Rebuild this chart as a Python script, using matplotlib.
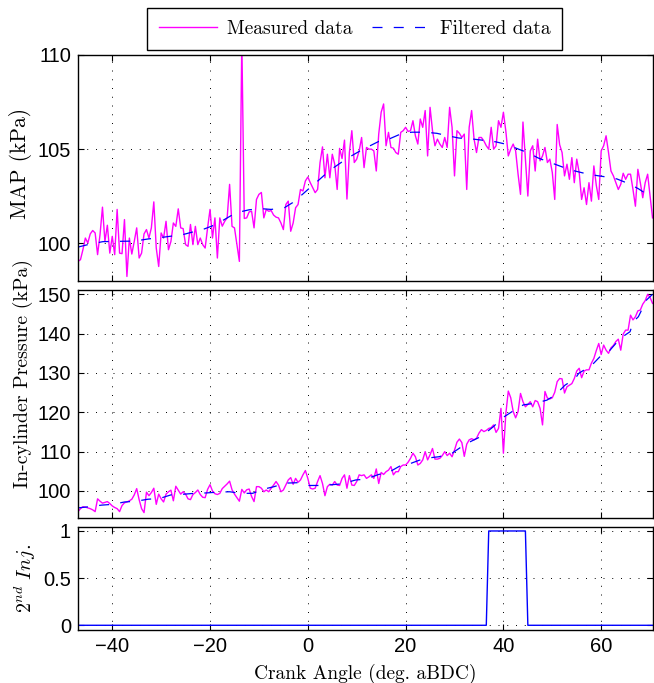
import numpy as np
import matplotlib
matplotlib.use("Agg")
import matplotlib.pyplot as plt

plt.rcParams['font.family'] = ['Liberation Sans', 'DejaVu Sans']
plt.rcParams['font.size'] = 13
plt.rcParams['mathtext.fontset'] = 'cm'
plt.rcParams['axes.unicode_minus'] = True

# crank angle samples (deg aBDC), 0.5 deg step
crank = np.arange(-47.0, 70.51, 0.5)

# measured MAP (kPa)
map_meas = [
    99.04, 99.13, 99.66, 100.28, 100.02, 100.5, 100.68, 100.55, 99.4, 100.46,
    101.92, 100.1, 100.96, 99.48, 100.37, 99.4, 101.8, 99.48, 99.45, 101.26,
    98.24, 100.28, 99.43, 100.1, 100.82, 99.22, 99.48, 100.5, 100.73, 100.28,
    100.82, 102.2, 99.75, 98.77, 100.55, 100.28, 101.17, 99.66, 100.1, 101.08,
    100.9, 101.83, 100.82, 100.78, 99.93, 99.84, 101.0, 99.93, 100.9, 99.93,
    100.28, 99.93, 99.75, 100.82, 101.8, 100.28, 101.35, 99.22, 101.35,
    100.91, 101.17, 101.35, 103.13, 100.9, 100.82, 99.93, 99.04, 110.8, 101.32,
    101.35, 101.67, 101.7, 100.82, 102.33, 102.6, 102.7, 101.35, 101.8, 101.7,
    101.74, 101.5, 101.39, 101.35, 101.08, 100.73, 102.06, 102.24, 100.64, 101.08,
    101.89, 102.06, 102.86, 102.78, 103.31, 103.52, 103.22, 102.95, 102.69, 102.86,
    104.29, 105.12, 103.48, 104.73, 103.48, 104.73, 104.2, 102.86, 105.04, 104.5,
    105.48, 102.35, 104.82, 105.98, 104.29, 104.47, 104.91, 105.62,
    104.02, 105.09, 105.0, 105.0, 104.91, 103.84, 105.8, 106.96, 107.4, 105.18,
    105.89, 105.09, 105.05, 104.82, 104.73, 105.89, 105.98, 106.16, 105.94, 105.98,
    106.51, 105.71, 105.27, 106.6, 106.16, 107.05, 104.64, 107.22, 105.98, 105.18,
    105.53, 105.27, 105.09, 105.62, 105.09, 107.22, 106.16, 103.58, 105.98, 105.84,
    105.62, 105.8, 102.86, 106.16, 107.05, 105.53, 104.82, 105.62, 105.62, 105.44,
    105.18, 105.0, 106.16, 105.0, 105.18, 106.51, 106.16, 106.96,
    105.95, 104.64, 105.0, 105.27, 104.91, 103.67, 102.6, 106.44, 104.47, 102.51,
    104.91, 105.18, 103.84, 105.53, 104.38, 104.64, 105.09, 104.29, 104.47, 103.76,
    102.33, 106.31, 105.24, 104.82, 103.58, 104.2, 103.4, 104.55, 103.22, 104.47,
    103.76, 102.33, 102.95, 102.06, 103.22, 102.24, 104.11, 103.08, 102.33, 104.91,
    105.18, 105.71, 104.82, 103.84, 103.58, 103.22, 102.86, 103.13, 103.72, 103.4,
    103.67, 103.67, 102.86, 101.97, 103.93, 103.22, 102.42, 103.22, 103.67, 102.51,
    101.35,
]

# filtered MAP (kPa)
map_filt_x = [-47, -45, -41.9, -35.4, -32.7, -29.7, -25.6, -21.1, -18.8, -14.7,
              -12.0, -9.6, -7.5, -4.8, -3.1, -1.1, 0.6, 2.65, 4.35, 8.1,
              10.5, 12.5, 14.5, 16.9, 19.3, 21.3, 24.1, 26.4, 28.8, 30.9,
              33.6, 35.6, 38.4, 40.4, 43.1, 45.2, 47.2, 49.6, 52.0, 54.0,
              56.7, 58.8, 61.1, 63.2, 65.6, 67.6, 70.5]
map_filt = [99.8, 99.93, 100.09, 100.12, 100.23, 100.32, 100.46, 100.77, 101.0, 101.62,
            101.78, 101.84, 101.8, 101.89, 102.16, 102.6, 102.99, 103.45, 103.85, 104.52,
            104.88, 105.15, 105.41, 105.57, 105.84, 105.9, 105.9, 105.84, 105.7, 105.59,
            105.54, 105.48, 105.39, 105.27, 105.0, 104.79, 104.52, 104.29, 104.06, 103.88,
            103.71, 103.61, 103.52, 103.42, 103.17, 102.9, 102.4]

# measured in-cylinder pressure (kPa)
cyl_meas = [
    94.75, 95.5, 96.0, 95.9, 95.7, 95.5, 95.2, 94.75, 98.0, 97.4,
    96.9, 97.1, 97.3, 96.8, 96.2, 95.8, 95.5, 94.75, 96.3, 97.0,
    97.2, 97.5, 97.9, 99.0, 100.6, 97.8, 95.5, 94.5, 99.7, 98.8,
    99.6, 100.7, 96.6, 99.2, 98.0, 97.2, 99.2, 99.8, 100.2, 97.5,
    101.2, 100.2, 99.2, 99.8, 99.2, 98.0, 97.8, 99.1, 99.6, 100.25,
    99.1, 98.4, 98.3, 100.4, 101.6, 100.0, 99.3, 99.1, 99.4, 100.6,
    101.2, 101.8, 102.5, 100.3, 99.2, 98.3, 97.4, 100.4, 99.5, 100.3,
    100.5, 98.6, 97.3, 101.1, 101.1, 100.7, 99.8, 100.25, 99.8, 100.7,
    101.5, 102.4, 101.5, 99.8, 100.25, 101.5, 102.8, 103.4, 101.7, 103.2,
    102.2, 102.8, 104.1, 105.2, 103.2, 100.7, 100.5, 100.7, 102.4, 103.9,
    101.9, 98.8, 101.1, 101.7, 101.5, 102.4, 101.5, 101.4, 103.2, 104.1,
    100.7, 103.9, 101.5, 101.4, 102.4, 104.1, 103.9, 104.1, 103.2, 103.6,
    104.1, 103.2, 105.6, 101.9, 104.7, 104.2, 104.9, 105.3, 106.2, 104.1,
    104.9, 104.9, 106.2, 106.6, 106.6, 107.3, 108.3, 109.6, 108.7, 106.6,
    107.0, 107.9, 110.0, 107.9, 109.2, 110.8, 108.1, 108.1, 108.3,
    109.0, 110.0, 109.0, 109.6, 108.7, 110.4, 112.4, 113.2, 112.3, 108.8,
    111.9, 113.0, 113.3, 113.0, 113.4, 114.7, 115.6, 115.1, 115.4, 115.9,
    116.1, 116.8, 114.9, 115.9, 121.0, 109.6, 119.7, 125.4, 123.7, 120.2,
    118.6, 120.2, 124.8, 122.7, 121.4, 122.0, 122.7, 121.4, 123.0, 122.7,
    121.0, 116.8, 125.3, 123.6, 123.4, 123.7, 125.1, 127.8, 128.6, 128.5,
    124.9, 126.5, 126.9, 127.3, 128.6, 130.5, 131.2, 128.8, 130.5, 130.8,
    130.8, 132.5, 133.7, 135.7, 137.5, 134.7, 137.1, 135.8, 135.0, 136.4,
    137.0, 138.0, 138.6, 135.8, 139.9, 140.9, 140.9, 144.7, 143.5, 144.3,
    145.8, 146.0, 147.5, 148.4, 150.0, 149.2, 147.7,
]

# filtered in-cylinder pressure (kPa)
cyl_filt_x = [-47, -44.6, -42.2, -39.9, -37.5, -35.1, -32.7, -30.3, -28, -25.6,
              -23.2, -20.8, -18.4, -16, -13.7, -11.3, -8.9, -6.9, -4.5, -2.1,
              0, 2.3, 5, 7, 9.8, 11.8, 14.5, 16.5, 18.9, 20.6,
              23.4, 25.4, 26.8, 29.5, 32.2, 35.0, 36.7, 38.0, 39.7, 41.8,
              44.1, 46.5, 48.9, 50.6, 52.6, 54.7, 55.4, 58.1, 60.1, 61.8,
              63.9, 65.9, 66.6, 67.6, 69.3, 70.5]
cyl_filt = [95.7, 96.0, 96.4, 96.6, 97.2, 97.4, 97.9, 98.1, 99.0, 99.15,
            99.4, 99.5, 99.7, 99.8, 99.4, 99.4, 100.5, 101.1, 102.0, 102.1,
            101.4, 101.4, 101.6, 101.8, 102.8, 103.0, 104.2, 104.7, 106.4, 106.8,
            108.1, 108.5, 108.7, 109.6, 111.9, 113.6, 115.1, 116.4, 118.5, 120.2,
            121.9, 122.3, 123.1, 124.4, 126.9, 128.6, 129.9, 132.0, 134.6, 135.8,
            138.8, 140.5, 143.1, 144.3, 148.6, 150.0]

# second injection flag
inj = [0] * 168 + [1] * 16 + [0] * 52

serif = 'cmr10'
grid_kw = dict(color='k', linestyle=(0, (1, 8)), linewidth=0.7)

fig = plt.figure(figsize=(6.54, 6.83), dpi=100)
ax1 = fig.add_axes([0.1193, 0.5886, 0.8792, 0.3309])
ax2 = fig.add_axes([0.1193, 0.2420, 0.8792, 0.3334], sharex=ax1)
ax3 = fig.add_axes([0.1193, 0.0776, 0.8792, 0.1512], sharex=ax1)

l1, = ax1.plot(crank, map_meas, color='#ff00ff', lw=1.0, label='Measured data')
l2, = ax1.plot(map_filt_x, map_filt, color='#0000ff', lw=0.9,
               linestyle=(0, (8, 9)), label='Filtered data')
ax1.set_ylim(98, 110)
ax1.set_yticks([100, 105, 110])
ax1.set_ylabel('MAP (kPa)', family=serif, fontsize=15.5)

ax2.plot(crank, cyl_meas, color='#ff00ff', lw=1.0)
ax2.plot(cyl_filt_x, cyl_filt, color='#0000ff', lw=0.9, linestyle=(0, (8, 9)))
ax2.set_ylim(93.2, 151.1)
ax2.set_yticks([100, 110, 120, 130, 140, 150])
ax2.set_ylabel('In-cylinder Pressure (kPa)', family=serif, fontsize=14.3)

ax3.plot(crank, inj, color='#0000ff', lw=1.0)
ax3.set_ylim(-0.05, 1.045)
ax3.set_yticks([0, 0.5, 1])
ax3.set_yticklabels(['0', '0.5', '1'])
ax3.set_ylabel(r'$2^{nd}\ Inj.$', fontsize=14.5)
ax3.set_xlabel('Crank Angle (deg. aBDC)', family=serif, fontsize=14)

ax1.set_xlim(-47, 70.6)
ax1.set_xticks([-40, -20, 0, 20, 40, 60])

for ax in (ax1, ax2, ax3):
    ax.grid(True, **grid_kw)
    ax.tick_params(direction='in', top=True, right=True, length=4, width=0.8,
                   pad=5, labelsize=14.5)
    for s in ax.spines.values():
        s.set_linewidth(1.0)
ax1.yaxis.set_label_coords(-0.08, 0.52)
ax2.yaxis.set_label_coords(-0.078, 0.634)
ax3.yaxis.set_label_coords(-0.07, 0.5)
for ax in (ax1, ax2):
    plt.setp(ax.get_xticklabels(), visible=False)
ax3.xaxis.set_label_coords(0.5, -0.33)

leg = fig.legend(handles=[l1, l2], loc='center', bbox_to_anchor=(0.542, 0.9575),
                 ncol=2, frameon=True, fancybox=False, framealpha=1,
                 prop={'family': serif, 'size': 14}, handlelength=3.0,
                 columnspacing=1.0, borderpad=0.6, handletextpad=0.5)
leg.get_frame().set_edgecolor('k')
leg.get_frame().set_linewidth(1.0)

fig.savefig('out.png', dpi=100)
